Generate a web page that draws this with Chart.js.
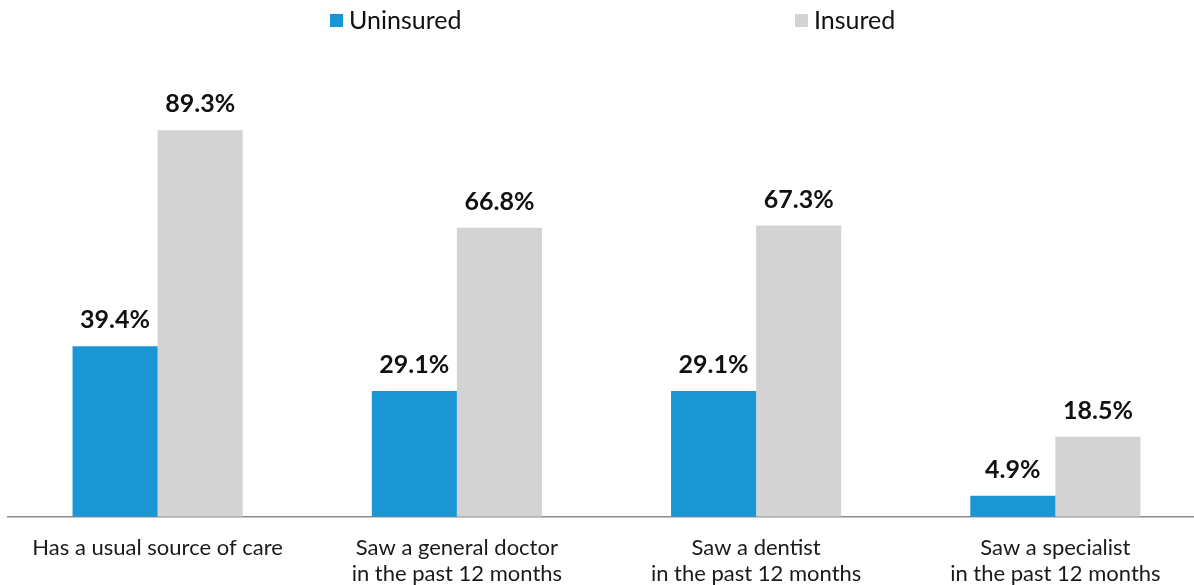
<!DOCTYPE html>
<html>
<head>
<meta charset="utf-8">
<script src="https://cdn.jsdelivr.net/npm/chart.js@4"></script>
<style>
  html, body { margin: 0; padding: 0; background: #fff; overflow: hidden; }
  #wrap { width: 1213px; height: 585px; position: relative; }
</style>
</head>
<body>
<div id="wrap"><canvas id="careChart"></canvas></div>
<script>
const categories = [
    ['Has a usual source of care'],
    ['Saw a general doctor', 'in the past 12 months'],
    ['Saw a dentist', 'in the past 12 months'],
    ['Saw a specialist', 'in the past 12 months']
];
const uninsured = [39.4, 29.1, 29.1, 4.9];
const insured = [89.3, 66.8, 67.3, 18.5];
const seriesNames = ['Uninsured', 'Insured'];
const seriesColors = ['#1A96D4', '#D3D3D3'];

// value labels above each bar
const barLabels = {
    id: 'barLabels',
    afterDatasetsDraw(chart) {
        const ctx = chart.ctx;
        ctx.save();
        ctx.font = 'bold 25px Lato';
        ctx.fillStyle = '#111';
        ctx.textAlign = 'center';
        ctx.textBaseline = 'middle';
        chart.data.datasets.forEach((ds, i) => {
            chart.getDatasetMeta(i).data.forEach((bar, j) => {
                ctx.fillText(ds.data[j].toFixed(1) + '%', bar.x, bar.y - 26);
            });
        });
        ctx.restore();
    }
};

// spread-out legend across the top
const topLegend = {
    id: 'topLegend',
    afterDraw(chart) {
        const ctx = chart.ctx;
        const spots = [330, 795];
        ctx.save();
        ctx.font = '25px Lato';
        ctx.textBaseline = 'middle';
        ctx.textAlign = 'left';
        seriesNames.forEach((name, i) => {
            ctx.fillStyle = seriesColors[i];
            ctx.fillRect(spots[i], 14, 13, 13);
            ctx.fillStyle = '#111';
            ctx.fillText(name, spots[i] + 19, 21);
        });
        ctx.restore();
    }
};

new Chart(document.getElementById('careChart'), {
    type: 'bar',
    data: {
        labels: categories,
        datasets: [
            { label: seriesNames[0], data: uninsured, backgroundColor: seriesColors[0] },
            { label: seriesNames[1], data: insured, backgroundColor: seriesColors[1] }
        ]
    },
    options: {
        responsive: true,
        maintainAspectRatio: false,
        animation: false,
        categoryPercentage: 0.5686,
        barPercentage: 1,
        layout: { padding: { top: 84, left: 8, right: 8, bottom: -20 } },
        plugins: {
            legend: { display: false },
            tooltip: { enabled: false }
        },
        scales: {
            x: {
                grid: { display: false, drawTicks: false },
                border: { display: true, color: '#8a8a8a', width: 1.5 },
                ticks: {
                    color: '#1a1a1a',
                    font: { family: 'Lato', size: 22, lineHeight: 1.14 },
                    padding: 19,
                    maxRotation: 0,
                    autoSkip: false
                }
            },
            y: {
                display: false,
                min: 0,
                max: 100
            }
        }
    },
    plugins: [barLabels, topLegend]
});
</script>
</body>
</html>
